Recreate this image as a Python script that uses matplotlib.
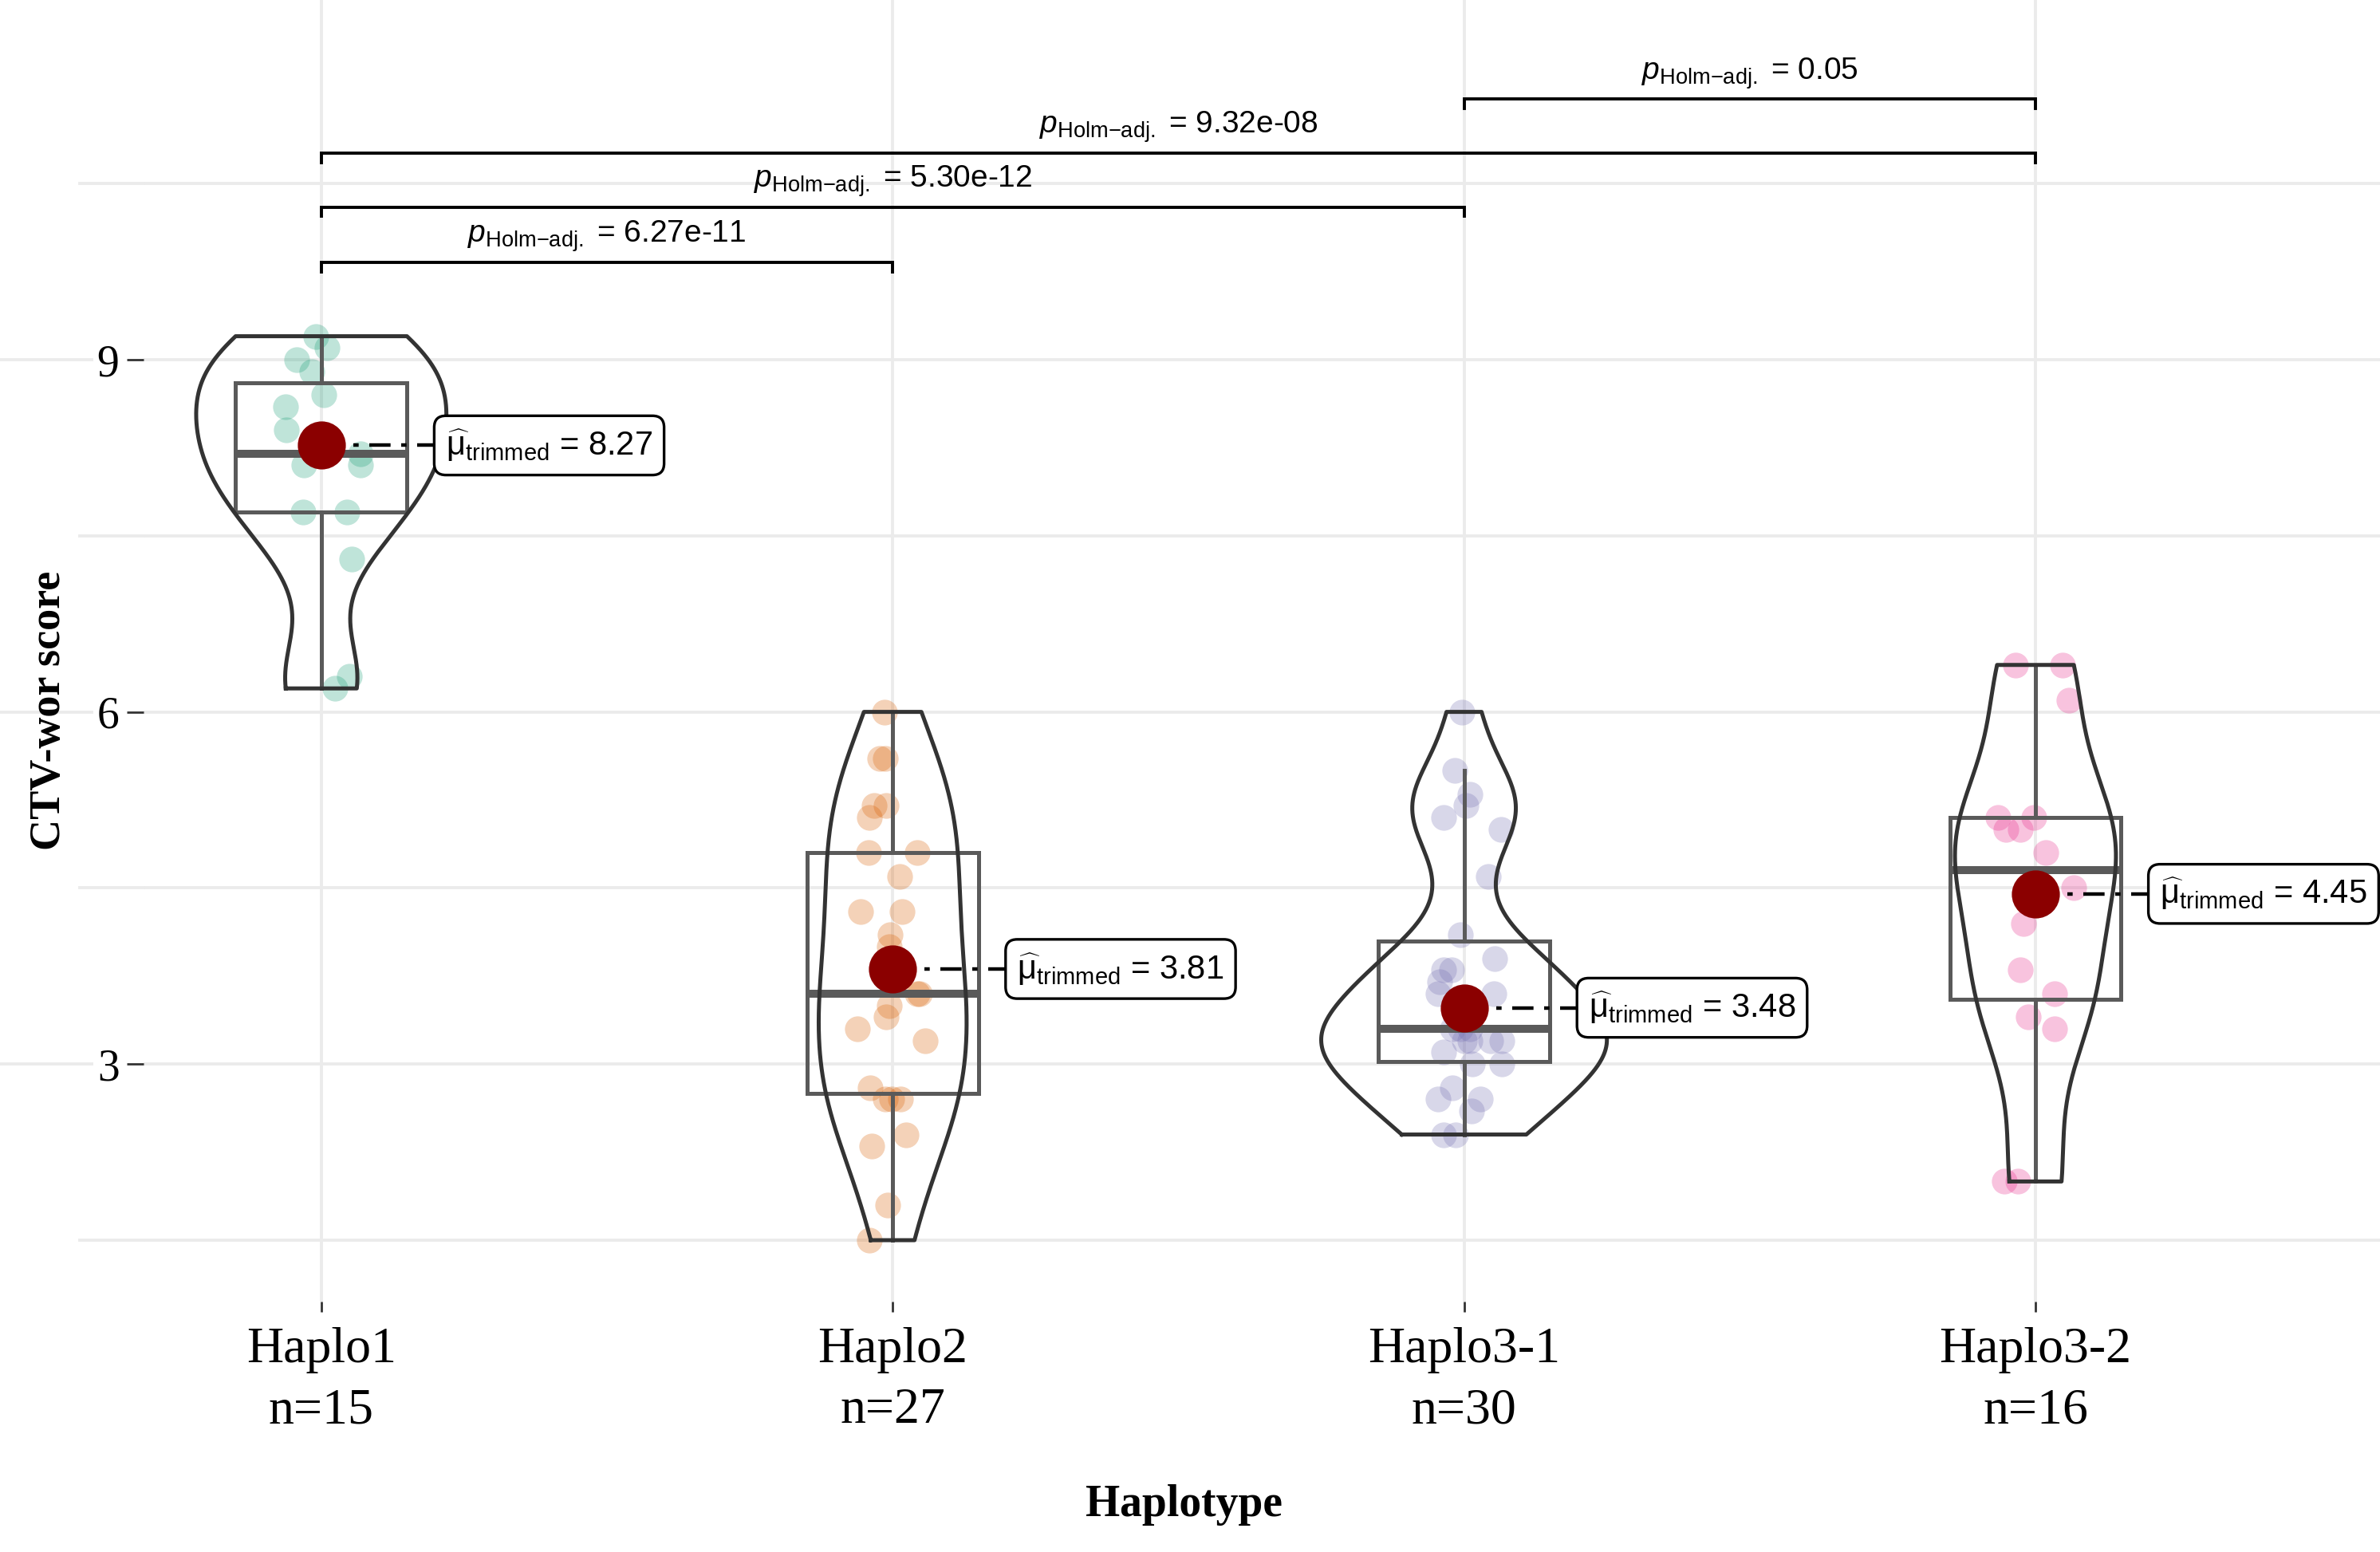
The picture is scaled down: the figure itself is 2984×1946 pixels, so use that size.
import numpy as np
import matplotlib
matplotlib.use("Agg")
import matplotlib.pyplot as plt
from matplotlib.transforms import blended_transform_factory

# ---- data ----
groups = ["Haplo1", "Haplo2", "Haplo3-1", "Haplo3-2"]
counts = [15, 27, 30, 16]
colors = ["#1B9E77", "#D95F02", "#7570B3", "#E7298A"]

haplo1 = [9.2, 9.1, 9.0, 8.9, 8.7, 8.6, 8.4, 8.1, 8.2, 8.1, 7.7, 7.7, 7.3, 6.3, 6.2]
haplo1_jit = [-0.009, 0.010, -0.043, -0.017, 0.004, -0.062, -0.061, -0.030, 0.069, 0.069,
              -0.032, 0.045, 0.053, 0.049, 0.024]

haplo2 = [6.0, 5.6, 5.6, 5.2, 5.2, 5.1, 4.8, 4.8, 4.6, 4.3, 4.3, 4.1, 4.0, 3.6, 3.6, 3.5,
          3.4, 3.3, 3.2, 2.8, 2.7, 2.7, 2.7, 2.4, 2.3, 1.8, 1.5]
haplo2_jit = [-0.014, -0.022, -0.013, -0.032, -0.011, -0.041, -0.042, 0.043, 0.012, -0.056,
              0.016, -0.004, -0.006, 0.043, 0.047, -0.006, -0.012, -0.062, 0.057, -0.039,
              -0.013, -0.001, 0.013, 0.024, -0.036, -0.008, -0.041]

haplo31 = [6.0, 5.5, 5.3, 5.2, 5.1, 5.0, 4.6, 4.1, 3.9, 3.8, 3.8, 3.7, 3.6, 3.6, 3.3, 3.3,
           3.3, 3.2, 3.2, 3.2, 3.2, 3.1, 3.0, 3.0, 2.8, 2.7, 2.7, 2.6, 2.4, 2.4]
haplo31_jit = [-0.004, -0.016, 0.010, 0.003, -0.036, 0.065, 0.043, -0.006, 0.054, -0.036,
               -0.022, -0.043, -0.046, 0.052, -0.007, 0.011, -0.020, 0.001, 0.010, 0.047,
               0.066, -0.036, 0.015, 0.066, -0.020, -0.046, 0.029, 0.013, -0.036, -0.015]

haplo32 = [6.4, 6.4, 6.1, 5.1, 5.1, 5.0, 5.0, 4.8, 4.5, 4.2, 3.8, 3.6, 3.4, 3.3, 2.0, 2.0]
haplo32_jit = [-0.035, 0.048, 0.058, -0.066, -0.003, -0.052, -0.027, 0.018, 0.067, -0.021,
               -0.026, 0.034, -0.013, 0.034, -0.054, -0.031]

trimmed_means = [8.27, 3.81, 3.48, 4.45]

pairs = [(1, 2), (1, 3), (1, 4), (3, 4)]
pair_p = ["6.27e-11", "5.30e-12", "9.32e-08", "0.05"]
pair_y = [9.83, 10.30, 10.76, 11.22]

values = [haplo1, haplo2, haplo31, haplo32]
jitter = [haplo1_jit, haplo2_jit, haplo31_jit, haplo32_jit]

SERIF = "Liberation Serif"
SANS = "Liberation Sans"
plt.rcParams.update({
    "font.family": SANS,
    "mathtext.fontset": "custom",
    "mathtext.rm": SANS,
    "mathtext.it": SANS + ":italic",
    "mathtext.bf": SANS + ":bold",
})

GRID = "#EBEBEB"


def kde(v, grid):
    v = np.asarray(v, float)
    n = len(v)
    q75, q25 = np.percentile(v, [75, 25])
    bw = 0.9 * min(v.std(ddof=1), (q75 - q25) / 1.34) * n ** -0.2
    z = (grid[:, None] - v[None, :]) / bw
    return np.exp(-0.5 * z ** 2).sum(axis=1) / (n * bw * np.sqrt(2 * np.pi))


fig = plt.figure(figsize=(14.92, 9.73), dpi=200)
ax = fig.add_axes([180 / 2984, 1 - 1632 / 1946, 1 - 180 / 2984, 1632 / 1946])
ax.set_xlim(0.689, 4.603)
ax.set_ylim(0.977, 12.064)

# grid
ax.set_yticks([3, 6, 9])
ax.set_yticks([1.5, 4.5, 7.5, 10.5], minor=True)
ax.set_xticks(range(1, 5))
ax.grid(True, which="both", color=GRID, linewidth=1.4)
ax.set_axisbelow(True)
for s in ax.spines.values():
    s.set_visible(False)

tr = blended_transform_factory(fig.transFigure, ax.transData)
for yv in [3, 6, 9]:
    ax.plot([0, 115 / 2984], [yv, yv], color=GRID, lw=1.4, transform=tr, clip_on=False, zorder=0)
for yv in [1.5, 4.5, 7.5, 10.5]:
    ax.plot([100 / 2984, 180 / 2984], [yv, yv], color=GRID, lw=1.4, transform=tr, clip_on=False, zorder=0)

# violins (scale = area, width 0.5)
grids = [np.linspace(min(v), max(v), 512) for v in values]
dens = [kde(v, g) for v, g in zip(values, grids)]
dmax = max(d.max() for d in dens)

for i, (v, jit, col) in enumerate(zip(values, jitter, colors)):
    x0 = i + 1
    v = np.asarray(v, float)
    ax.scatter(x0 + np.asarray(jit), v, s=135, color=col, alpha=0.28, linewidths=0, zorder=2)

    # boxplot
    q1, med, q3 = np.percentile(v, [25, 50, 75])
    iqr = q3 - q1
    lo = v[v >= q1 - 1.5 * iqr].min()
    hi = v[v <= q3 + 1.5 * iqr].max()
    bw = 0.15
    bc = "#5a5a5a"
    ax.plot([x0 - bw, x0 + bw, x0 + bw, x0 - bw, x0 - bw], [q1, q1, q3, q3, q1],
            color=bc, lw=1.8, zorder=3, solid_joinstyle="miter")
    ax.plot([x0 - bw, x0 + bw], [med, med], color=bc, lw=3.6, zorder=3, solid_capstyle="butt")
    ax.plot([x0, x0], [q3, hi], color=bc, lw=1.8, zorder=3)
    ax.plot([x0, x0], [lo, q1], color=bc, lw=1.8, zorder=3)

    # violin outline
    g = grids[i]
    hw = dens[i] / dmax * 0.25
    xs = np.concatenate([x0 - hw, (x0 + hw)[::-1], [x0 - hw[0]]])
    ys = np.concatenate([g, g[::-1], [g[0]]])
    ax.plot(xs, ys, color="#333333", lw=1.8, zorder=3, solid_joinstyle="round")

    # trimmed mean
    tm = trimmed_means[i]
    ax.plot([x0, x0 + 0.198], [tm, tm], color="black", lw=1.6,
            linestyle=(0, (6, 3, 1.5, 3)), zorder=4)
    ax.scatter([x0], [tm], s=470, color="#8B0000", linewidths=0, zorder=5)
    ax.text(x0 + 0.218, tm, r"$\widehat{\mathrm{\mu}}_{\mathrm{trimmed}}$ = " + f"{tm:.2f}",
            fontsize=15, ha="left", va="center", zorder=6,
            bbox=dict(boxstyle="round,pad=0.35,rounding_size=0.35", fc="white", ec="black", lw=1.2))

# significance brackets
for (a, b), p, yb in zip(pairs, pair_p, pair_y):
    ax.plot([a, a, b, b], [yb - 0.08, yb, yb, yb - 0.08], color="black", lw=1.4, zorder=4,
            solid_joinstyle="miter")
    ax.text((a + b) / 2, yb + 0.17, r"$p_{\mathrm{Holm{-}adj.}}$ = " + p, fontsize=14,
            ha="center", va="baseline", zorder=6)

# axes text
ax.set_xticklabels([f"{g}\nn={n}" for g, n in zip(groups, counts)], family=SERIF,
                   fontsize=23, linespacing=1.42)
ax.set_yticklabels(["3", "6", "9"], family=SERIF, fontsize=20)
ax.tick_params(axis="y", which="major", length=7.5, width=1.0, color="#333333", pad=3.5)
ax.tick_params(axis="x", which="major", length=4.5, width=1.0, color="#333333", pad=7)
ax.tick_params(which="minor", length=0)

ax.set_xlabel("Haplotype", family=SERIF, fontsize=20, fontweight="bold")
ax.xaxis.set_label_coords((1484 - 180) / 2804, -(1861 - 1632) / 1632)
ax.set_ylabel("CTV-wor score", family=SERIF, fontsize=19.5, fontweight="bold")
ax.yaxis.set_label_coords((87 - 180) / 2804, (1632 - 891) / 1632)

fig.savefig("out.png", dpi=200)
